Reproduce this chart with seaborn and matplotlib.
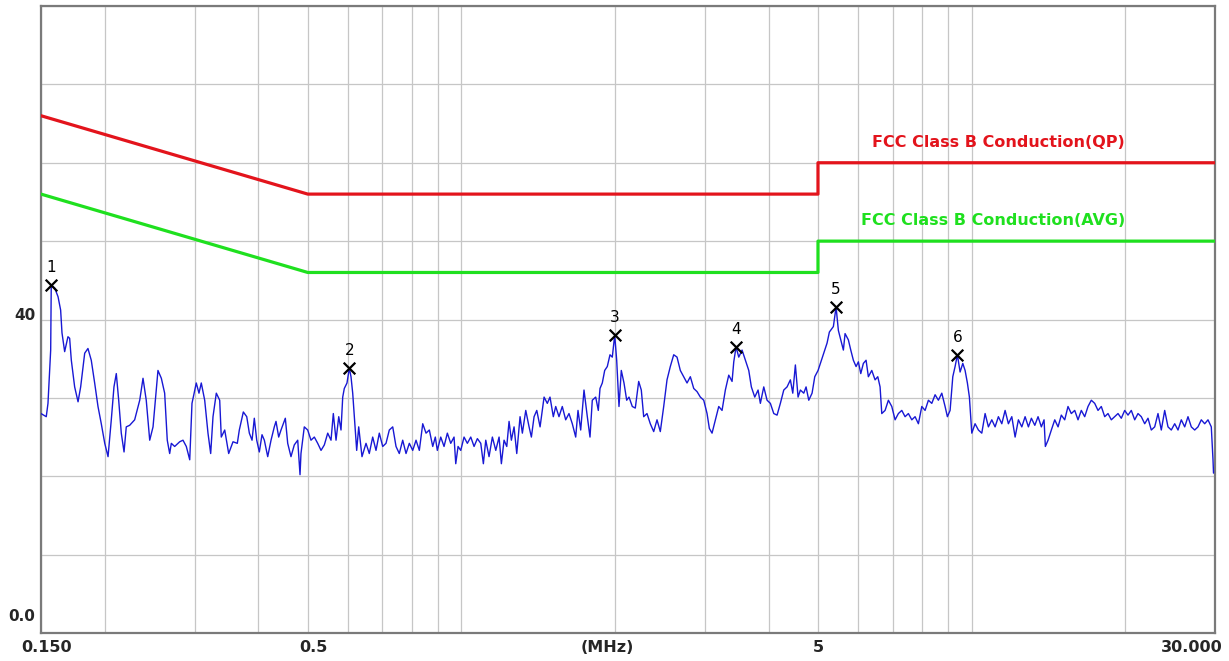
import matplotlib
matplotlib.use("Agg")
import matplotlib.pyplot as plt
import matplotlib.transforms as mtransforms
from matplotlib.ticker import NullFormatter
import seaborn as sns
import pandas as pd

# ---------------- data ----------------
freq_mhz = [
    0.150, 0.1536, 0.1548, 0.1567, 0.1571, 0.1596, 0.1620, 0.1639, 0.1649, 0.1669,
    0.1694, 0.1707, 0.1720, 0.1746, 0.1773, 0.1794, 0.1827, 0.1854, 0.1882, 0.1911,
    0.1940, 0.1969, 0.2000, 0.2030, 0.2060, 0.2085, 0.2107, 0.2130, 0.2155, 0.2182,
    0.2204, 0.2238, 0.2289, 0.2342, 0.2377, 0.2412, 0.2450, 0.2487, 0.2543, 0.2582,
    0.2621, 0.2652, 0.2681, 0.2701, 0.2742, 0.2805, 0.2847, 0.2890, 0.2935, 0.2965,
    0.3023, 0.3060, 0.3092, 0.3140, 0.3187, 0.3226, 0.3260, 0.3309, 0.3360, 0.3384,
    0.3437, 0.3499, 0.3568, 0.3638,
    0.3671, 0.3738, 0.3796, 0.3841, 0.3888, 0.3928, 0.3971, 0.4018, 0.4067, 0.4110,
    0.4173, 0.4236, 0.4299, 0.4332, 0.4385, 0.4431, 0.4518, 0.4567, 0.4635, 0.4705,
    0.4778, 0.4828, 0.4849, 0.4922, 0.4998, 0.5073, 0.5150, 0.5229, 0.5308, 0.5388,
    0.5471, 0.5553, 0.5611, 0.5680, 0.5750, 0.5809, 0.5854, 0.5896, 0.5968, 0.6031,
    0.6077, 0.6124, 0.6188, 0.6235, 0.6292, 0.6386, 0.6503, 0.6600, 0.6702, 0.6803,
    0.6905, 0.7012, 0.7117, 0.7224, 0.7336, 0.7446, 0.7557, 0.7674, 0.7790, 0.7907,
    0.8029, 0.8150, 0.8272, 0.8400, 0.8526, 0.8654, 0.8788, 0.8891,
    0.8972, 0.9111, 0.9248, 0.9387, 0.9532, 0.9675, 0.9750, 0.9852, 0.9972, 1.0122,
    1.0274, 1.0433, 1.0590, 1.0749, 1.0915, 1.1044, 1.1164, 1.1331, 1.1502, 1.1680,
    1.1855, 1.1979, 1.2125, 1.2274, 1.2402, 1.2532, 1.2685, 1.2840, 1.3033, 1.3169,
    1.3373, 1.3574, 1.3716, 1.3884, 1.4054, 1.4265, 1.4525, 1.4738, 1.4919, 1.5143,
    1.5308, 1.5536, 1.5769, 1.6013, 1.6254, 1.6498, 1.6753, 1.6928, 1.7135, 1.7393,
    1.7654, 1.7870, 1.8056, 1.8336, 1.8552, 1.8695, 1.8890, 1.9095, 1.9321, 1.9557,
    1.9762, 1.9977, 2.0158, 2.0368, 2.0581, 2.0833, 2.1089, 2.1309, 2.1629,
    2.1923, 2.2262, 2.2525, 2.2770, 2.3112, 2.3459, 2.3822, 2.4180, 2.4543, 2.4922,
    2.5297, 2.5677, 2.6074, 2.6466, 2.6863, 2.7279, 2.7689, 2.8105, 2.8539, 2.8968,
    2.9404, 2.9858, 3.0307, 3.0623, 3.0998, 3.1464, 3.1950, 3.2430, 3.2917, 3.3426,
    3.3929, 3.4190, 3.4547, 3.4970, 3.5495, 3.6028, 3.6585, 3.7016, 3.7589, 3.8153,
    3.8551, 3.9147, 3.9735, 4.0331, 4.0955, 4.1570, 4.2193, 4.2846, 4.3490, 4.4143,
    4.4623, 4.5150, 4.5702, 4.6179, 4.6893, 4.7382, 4.7963, 4.8683, 4.9280, 5.0020,
    5.0542, 5.1323, 5.2095, 5.2638,
    5.3597, 5.4254, 5.4820, 5.5417, 5.6071, 5.6502, 5.7350, 5.7974, 5.8659, 5.9378,
    6.0000, 6.0650, 6.1367, 6.2118, 6.2767, 6.3739, 6.4695, 6.5488, 6.6172, 6.6681,
    6.7683, 6.8700, 6.9763, 7.0810, 7.1873, 7.2984, 7.4079, 7.5191, 7.6354, 7.7500,
    7.8663, 7.9880, 8.1079, 8.2296, 8.3568, 8.4822, 8.6095, 8.7426, 8.8737, 8.9663,
    9.0762, 9.1874, 9.2833, 9.3802, 9.4952, 9.6115, 9.7119, 9.8133, 9.9023, 10.010,
    10.160, 10.313, 10.472, 10.630, 10.789, 10.956, 11.120, 11.287, 11.462, 11.634,
    11.808, 11.991, 12.171, 12.353, 12.545, 12.733, 12.924,
    13.099, 13.303, 13.499, 13.702, 13.870, 13.951, 14.123, 14.334, 14.556, 14.775,
    14.993, 15.225, 15.453, 15.685, 15.928, 16.167, 16.409, 16.663, 16.913, 17.167,
    17.432, 17.694, 17.959, 18.237, 18.511, 18.788, 19.079, 19.365, 19.655, 19.959,
    20.259, 20.562, 20.880, 21.194, 21.512, 21.844, 22.172, 22.504, 22.852, 23.195,
    23.543, 23.907, 24.266, 24.630, 25.011, 25.386, 25.767, 26.166, 26.558, 26.957,
    27.373, 27.784, 28.201, 28.637, 29.067, 29.503, 29.73, 29.80,
]

level_dbuv = [
    28.0, 27.6, 29.3, 36.1, 44.4, 44.0, 42.9, 41.2, 38.3, 35.9,
    37.8, 37.6, 34.8, 31.4, 29.5, 31.4, 35.7, 36.3, 34.8, 31.9,
    28.9, 26.7, 24.2, 22.5, 27.2, 31.4, 33.1, 29.7, 25.5, 23.1,
    26.3, 26.5, 27.2, 29.7, 32.5, 29.7, 24.6, 26.3, 33.5, 32.5,
    30.6, 24.6, 22.9, 24.2, 23.8, 24.4, 24.6, 23.8, 22.1, 29.3,
    31.9, 30.6, 31.9, 29.7, 25.5, 22.9, 27.6, 30.6, 29.7, 25.0,
    25.9, 22.9, 24.4, 24.2,
    25.9, 28.2, 27.6, 25.5, 24.6, 27.4, 24.6, 23.1, 25.3, 24.6,
    22.5, 24.6, 26.3, 27.0, 25.0, 25.9, 27.4, 24.2, 22.5, 24.0,
    24.6, 20.2, 22.9, 26.3, 25.9, 24.6, 25.0, 24.2, 23.3, 24.0,
    25.5, 24.6, 28.0, 24.6, 27.6, 25.9, 30.1, 31.2, 31.9, 33.8,
    32.7, 30.6, 26.3, 23.3, 26.3, 22.5, 24.2, 22.9, 25.0, 23.3,
    25.5, 23.8, 24.2, 25.9, 26.3, 23.8, 22.9, 24.6, 22.9, 24.2,
    23.3, 24.6, 23.3, 26.7, 25.5, 25.9, 23.8, 25.0,
    23.3, 25.0, 23.8, 25.5, 24.2, 25.0, 21.6, 23.8, 23.3, 25.0,
    24.2, 25.0, 23.8, 24.8, 24.2, 21.6, 24.6, 22.5, 25.0, 23.3,
    25.0, 21.6, 24.6, 23.8, 27.0, 24.6, 26.3, 22.9, 27.6, 25.5,
    28.4, 26.3, 25.0, 27.6, 28.4, 26.3, 30.1, 29.3, 30.1, 27.6,
    28.9, 27.6, 28.9, 27.2, 28.0, 26.7, 25.0, 28.4, 25.9, 31.0,
    27.6, 25.0, 29.7, 30.1, 28.4, 31.2, 31.9, 33.5, 34.0, 35.5,
    35.2, 38.0, 34.8, 28.9, 33.5, 31.9, 29.7, 30.1, 28.9,
    28.7, 32.1, 31.0, 27.6, 28.0, 26.7, 25.7, 27.2, 25.7, 28.9,
    32.3, 34.0, 35.5, 35.2, 33.5, 32.7, 31.9, 32.7, 31.2, 30.8,
    30.1, 29.7, 28.0, 26.1, 25.5, 27.2, 28.9, 28.4, 31.0, 32.9,
    32.1, 34.6, 36.5, 35.2, 36.1, 34.8, 33.5, 31.4, 30.1, 31.0,
    29.3, 31.4, 29.7, 29.3, 28.0, 27.8, 29.3, 31.0, 31.4, 32.3,
    30.6, 34.2, 30.1, 31.0, 30.6, 31.4, 29.7, 30.6, 32.7, 33.5,
    34.4, 35.7, 37.0, 38.4,
    39.1, 41.6, 38.6, 37.4, 36.1, 38.2, 37.4, 36.1, 34.8, 34.0,
    34.6, 33.1, 34.4, 34.8, 32.7, 33.5, 32.3, 32.7, 31.4, 28.0,
    28.4, 29.7, 28.9, 27.2, 28.0, 28.4, 27.6, 28.0, 27.2, 27.6,
    26.7, 28.9, 28.4, 29.7, 29.3, 30.4, 29.7, 30.6, 28.9, 27.6,
    28.4, 32.7, 34.0, 35.5, 33.3, 34.4, 33.5, 31.9, 30.1, 25.5,
    26.7, 25.9, 25.5, 28.0, 26.3, 27.2, 26.3, 27.6, 26.7, 28.4,
    26.7, 27.6, 25.0, 27.2, 26.3, 27.6, 26.3,
    27.4, 26.5, 27.6, 26.3, 27.2, 23.8, 24.6, 25.9, 27.2, 26.3,
    27.8, 27.2, 28.9, 28.0, 28.4, 27.2, 28.4, 27.6, 28.9, 29.7,
    29.3, 28.4, 28.9, 27.6, 28.0, 27.2, 27.6, 28.0, 27.4, 28.4,
    27.8, 28.4, 27.2, 28.0, 27.6, 26.7, 27.4, 25.9, 26.3, 28.0,
    25.9, 28.4, 26.3, 25.9, 26.7, 25.9, 27.2, 26.3, 27.6, 26.3,
    25.9, 26.3, 27.2, 26.7, 27.2, 26.3, 22.1, 20.4,
]

qp_freq = [0.15, 0.5, 5, 5, 30]
qp_level = [66, 56, 56, 60, 60]
avg_freq = [0.15, 0.5, 5, 5, 30]
avg_level = [56, 46, 46, 50, 50]

marker_ids = ["1", "2", "3", "4", "5", "6"]
marker_freq = [0.1571, 0.6031, 1.9977, 3.4547, 5.4254, 9.3802]
marker_level = [44.4, 33.8, 38.0, 36.5, 41.6, 35.5]

qp_label = "FCC Class B Conduction(QP)"
avg_label = "FCC Class B Conduction(AVG)"
label_freq = 20
qp_label_level = 62.6
avg_label_level = 52.6

xtick_vals = [0.15, 0.5, 5, 30]
xtick_labels = ["0.150", "0.5", "5", "30.000"]
x_unit = "(MHz)"
ytick_vals = [0, 40]
ytick_labels = ["0.0", "40"]
grid_x = [0.2, 0.3, 0.4, 0.6, 0.7, 0.8, 0.9, 1, 2, 3, 4, 6, 7, 8, 9, 10, 20]
grid_y = [10, 20, 30, 50, 60, 70, 80]

# ---------------- style ----------------
sns.set_style("white")
plt.rcParams["font.family"] = ["DejaVu Sans"]

RED = "#e3141c"
GREEN = "#1fe01f"
BLUE = "#1818d4"

W, H = 1229, 661
fig = plt.figure(figsize=(W / 100, H / 100), dpi=100)
ax = fig.add_axes([41 / W, 1 - 633 / H, 1174 / W, 627 / H])

trace = pd.DataFrame({"freq": freq_mhz, "level": level_dbuv})
qp = pd.DataFrame({"freq": qp_freq, "level": qp_level})
avg = pd.DataFrame({"freq": avg_freq, "level": avg_level})
marks = pd.DataFrame({"freq": marker_freq, "level": marker_level, "id": marker_ids})

sns.lineplot(data=qp, x="freq", y="level", ax=ax, color=RED, lw=2.3,
             estimator=None, sort=False, zorder=3)
sns.lineplot(data=avg, x="freq", y="level", ax=ax, color=GREEN, lw=2.3,
             estimator=None, sort=False, zorder=3)
sns.lineplot(data=trace, x="freq", y="level", ax=ax, color=BLUE, lw=1.0,
             estimator=None, sort=False, zorder=4)
sns.scatterplot(data=marks, x="freq", y="level", ax=ax, marker="x",
                color="black", s=70, linewidth=1.6, zorder=5)

for _, r in marks.iterrows():
    ax.annotate(r["id"], xy=(r["freq"], r["level"]), xytext=(0, 12.5),
                textcoords="offset points", ha="center", va="center",
                fontsize=11, color="black", zorder=6)

ax.text(label_freq, qp_label_level, qp_label, color=RED, ha="right", va="center",
        fontsize=11.5, fontweight="bold")
ax.text(label_freq, avg_label_level, avg_label, color=GREEN, ha="right", va="center",
        fontsize=11.5, fontweight="bold")

ax.set_xscale("log")
ax.set_xlim(0.15, 30)
ax.set_ylim(0, 80)

ax.set_xticks(xtick_vals)
ax.set_xticklabels(xtick_labels)
ax.set_xticks(grid_x, minor=True)
ax.xaxis.set_minor_formatter(NullFormatter())
ax.set_yticks(ytick_vals)
ax.set_yticklabels(ytick_labels)
ax.set_yticks(grid_y, minor=True)
ax.yaxis.set_minor_formatter(NullFormatter())

ax.set_xlabel("")
ax.set_ylabel("")
ax.tick_params(axis="both", which="both", length=0)
ax.tick_params(axis="x", pad=5, labelsize=11.5)
ax.tick_params(axis="y", pad=4, labelsize=11)
for lbl in ax.get_xticklabels() + ax.get_yticklabels():
    lbl.set_fontweight("bold")

ax.grid(True, which="both", color="#c6c6c6", lw=0.9, zorder=0)
ax.set_axisbelow(True)

for sp in ax.spines.values():
    sp.set_visible(True)
    sp.set_color("#7a7a7a")
    sp.set_linewidth(1.6)

# nudge labels like the original instrument plot
ylbls = ax.get_yticklabels()
ylbls[0].set_transform(ylbls[0].get_transform() +
                       mtransforms.ScaledTranslation(0, 0.18, fig.dpi_scale_trans))
ylbls[1].set_transform(ylbls[1].get_transform() +
                       mtransforms.ScaledTranslation(0, 0.06, fig.dpi_scale_trans))
xlbls = ax.get_xticklabels()
xlbls[0].set_transform(xlbls[0].get_transform() +
                       mtransforms.ScaledTranslation(0.06, 0, fig.dpi_scale_trans))
xlbls[1].set_transform(xlbls[1].get_transform() +
                       mtransforms.ScaledTranslation(0.06, 0, fig.dpi_scale_trans))
xlbls[3].set_horizontalalignment("right")
xlbls[3].set_transform(xlbls[3].get_transform() +
                       mtransforms.ScaledTranslation(0.08, 0, fig.dpi_scale_trans))

ax.annotate(x_unit, xy=(0.482, 0), xycoords="axes fraction", xytext=(0, -5),
            textcoords="offset points", ha="center", va="top",
            fontsize=11.5, fontweight="bold")

fig.savefig("out.png", dpi=100, facecolor="white")
